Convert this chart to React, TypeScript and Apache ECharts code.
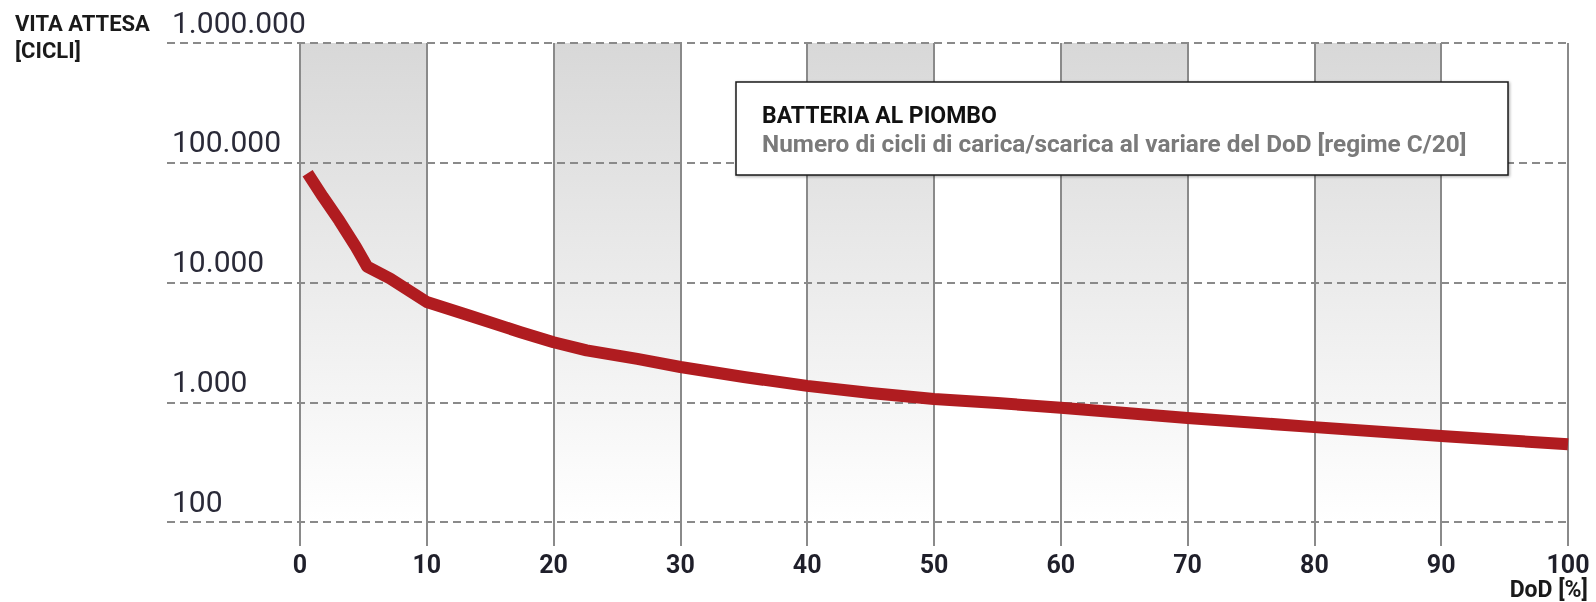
import React, { useEffect, useRef } from 'react';
import * as echarts from 'echarts';

// Depth of discharge [%]
const dodValues = [0.6, 1.8, 3.1, 4.4, 5.3, 7.1, 10, 13.4, 17.4, 20, 22.6, 26.6, 30, 35, 40, 45, 50, 55, 60, 70, 80, 90, 100];
// Expected life [cycles]
const cycleValues = [81700, 52100, 32800, 19900, 13550, 10800, 6870, 5280, 3840, 3170, 2715, 2305, 1970, 1625, 1370, 1195, 1065, 985, 900, 740, 620, 522, 445];

const yTickLabels = ['100', '1.000', '10.000', '100.000', '1.000.000'];
const shadedBands = [[0, 10], [20, 30], [40, 50], [60, 70], [80, 90]];

const yTitle = 'VITA ATTESA\n[CICLI]';
const xTitle = 'DoD [%]';
const boxTitle = 'BATTERIA AL PIOMBO';
const boxSubtitle = 'Numero di cicli di carica/scarica al variare del DoD [regime C/20]';

export default function App() {
  const ref = useRef<HTMLDivElement>(null);

  useEffect(() => {
    if (!ref.current) return;
    const chart = echarts.init(ref.current, null, { renderer: 'svg' });
    const gridBox = { top: 43, bottom: 80, right: 28 };
    const bandGradient = new echarts.graphic.LinearGradient(0, 0, 0, 1, [
      { offset: 0, color: '#d8d8d8' },
      { offset: 1, color: '#ffffff' },
    ]);
    chart.setOption({
      animation: false,
      textStyle: { fontFamily: 'Roboto' },
      grid: [
        { ...gridBox, left: 300 },
        { ...gridBox, left: 167 },
      ],
      xAxis: [
        {
          gridIndex: 0,
          type: 'value',
          min: 0,
          max: 100,
          interval: 10,
          z: 3,
          axisLine: { show: false },
          axisTick: { show: true, length: 24, lineStyle: { color: '#8a8a8a', width: 2 } },
          splitLine: { show: true, lineStyle: { color: '#8a8a8a', width: 2 } },
          axisLabel: { margin: 30, fontSize: 25, fontWeight: 'bold', color: '#1f1f2a', fontFamily: 'Roboto' },
        },
        { gridIndex: 1, type: 'value', min: 0, max: 1, show: false },
      ],
      yAxis: [
        { gridIndex: 0, type: 'log', logBase: 10, min: 100, max: 1000000, show: false },
        {
          gridIndex: 1,
          type: 'log',
          logBase: 10,
          min: 100,
          max: 1000000,
          z: 3,
          axisLine: { show: false },
          axisTick: { show: false },
          splitLine: { show: true, lineStyle: { color: '#8a8a8a', width: 2, type: [8, 5] } },
          axisLabel: {
            inside: true,
            margin: 5,
            verticalAlign: 'bottom',
            padding: [0, 0, 6, 0],
            fontSize: 30,
            color: '#2a2a38',
            fontFamily: 'Roboto',
            formatter: (v: number) => yTickLabels[Math.round(Math.log10(v)) - 2] ?? '',
          },
        },
      ],
      series: [
        {
          type: 'line',
          xAxisIndex: 0,
          yAxisIndex: 0,
          z: 1,
          silent: true,
          symbol: 'none',
          lineStyle: { opacity: 0, width: 0 },
          data: dodValues.map((d, i) => [d, cycleValues[i]]),
          markArea: {
            silent: true,
            z: 1,
            itemStyle: { color: bandGradient },
            data: shadedBands.map(([a, b]) => [{ xAxis: a }, { xAxis: b }]),
          },
        },
        {
          type: 'line',
          xAxisIndex: 0,
          yAxisIndex: 0,
          z: 5,
          symbol: 'none',
          smooth: false,
          lineStyle: { color: '#b01c20', width: 12, join: 'round' },
          data: dodValues.map((d, i) => [d, cycleValues[i]]),
        },
      ],
      graphic: [
        {
          type: 'text',
          x: 15,
          y: 10,
          z: 100,
          style: { text: yTitle, font: 'bold 22px Roboto', fill: '#1a1a1a', lineHeight: 27 },
        },
        {
          type: 'text',
          x: 1588,
          y: 601,
          z: 100,
          style: { text: xTitle, font: 'bold 23px Roboto', fill: '#1a1a1a', align: 'right', verticalAlign: 'bottom' },
        },
        {
          type: 'group',
          x: 736,
          y: 82,
          z: 100,
          children: [
            {
              type: 'rect',
              z: 100,
              shape: { x: 0, y: 0, width: 772, height: 93 },
              style: {
                fill: '#ffffff',
                stroke: '#1a1a1a',
                lineWidth: 1.5,
                shadowBlur: 3,
                shadowOffsetX: 1,
                shadowOffsetY: 1,
                shadowColor: 'rgba(0,0,0,0.35)',
              },
            },
            {
              type: 'text',
              x: 26,
              y: 33,
              z: 101,
              style: { text: boxTitle, font: 'bold 23px Roboto', fill: '#111111', verticalAlign: 'middle' },
            },
            {
              type: 'text',
              x: 26,
              y: 62,
              z: 101,
              scaleX: 1.015,
              style: { text: boxSubtitle, font: 'bold 24px Roboto', fill: '#7a7a7a', verticalAlign: 'middle' },
            },
          ],
        },
      ],
    });
    return () => chart.dispose();
  }, []);

  return <div ref={ref} style={{ position: 'fixed', left: 0, top: 0, width: 1596, height: 602 }} />;
}
